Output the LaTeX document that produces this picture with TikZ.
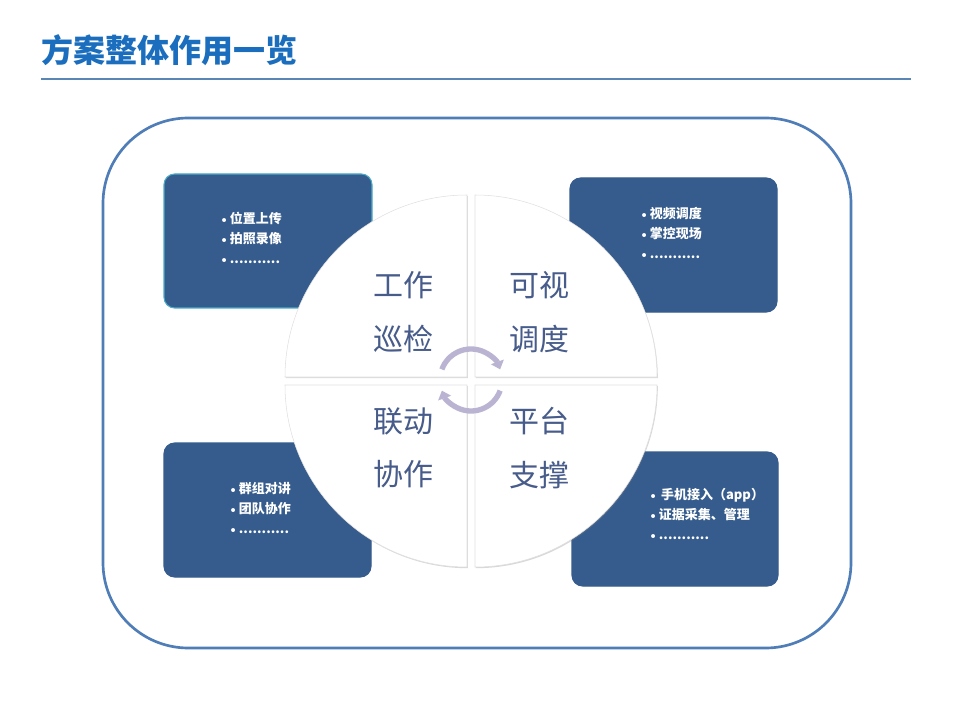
\documentclass[tikz,border=0pt]{standalone}
\usepackage{fontspec}
\newfontfamily\cjk{Noto Sans CJK SC}
\usetikzlibrary{arrows.meta,shadows}
\definecolor{titleblue}{HTML}{1B6EBD}
\definecolor{ruleblue}{HTML}{5A86B5}
\definecolor{frameblue}{HTML}{4F7DB8}
\definecolor{cardblue}{HTML}{365C8D}
\definecolor{cardteal}{HTML}{4BACC6}
\definecolor{wordblue}{HTML}{475C8A}
\definecolor{turnlilac}{HTML}{BAB4D2}
\newcommand{\cardbullet}{{\rmfamily\textbullet}}
\begin{document}
\begin{tikzpicture}[x=0.75pt,y=-0.75pt,
    card/.style={fill=cardblue,draw=cardblue,line width=0.8pt,rounded corners=8pt},
    cardtext/.style={text=white,font=\cjk\bfseries\fontsize{9.75}{15}\selectfont,align=left,anchor=west,inner sep=0pt},
    quarter/.style={fill=white,draw=black!12,line width=0.4pt,drop shadow={shadow xshift=0.6pt,shadow yshift=-0.9pt,opacity=0.3}},
    word/.style={text=wordblue,font=\cjk\fontsize{22.5}{40}\selectfont,align=center,inner sep=0pt},
    turn/.style={draw=turnlilac,line width=4pt,-{Triangle[width=10pt,length=6pt]}}
  ]
    \fill[white] (0,0) rectangle (960,720);
    \useasboundingbox (0,0) rectangle (960,720);
    % title and rule
    \node[anchor=west,text=titleblue,font=\cjk\bfseries\fontsize{24}{28}\selectfont,inner sep=0pt] (title) at (41,50) {方案整体作用一览};
    \draw[ruleblue,line width=0.8pt] (41,79) -- (911,79);
    % outer frame
    \draw[frameblue,line width=2pt,rounded corners=64pt] (103,118) rectangle (851,648);
    % cards
    \filldraw[card,draw=cardteal] (164,174) rectangle (372,308);
    \filldraw[card] (570,178) rectangle (777,312);
    \filldraw[card] (164,443) rectangle (371,577);
    \filldraw[card] (572,452) rectangle (778,586);
    % card texts
    \node[cardtext] (patroltext) at (218,238) {\cardbullet 位置上传\\\cardbullet 拍照录像\\\cardbullet ...........};
    \node[cardtext] (visualtext) at (638,233) {\cardbullet 视频调度\\\cardbullet 掌控现场\\\cardbullet ...........};
    \node[cardtext] (linktext) at (227,508) {\cardbullet 群组对讲\\\cardbullet 团队协作\\\cardbullet ...........};
    \node[cardtext] (platformtext) at (647,514) {\cardbullet\,手机接入（app）\\\cardbullet 证据采集、管理\\\cardbullet ...........};
    % four quarters of the disc
    \filldraw[quarter] (467,377) -- (285,377) arc[start angle=180,end angle=270,radius=182] -- cycle;
    \filldraw[quarter] (475,377) -- (475,195) arc[start angle=270,end angle=360,radius=182] -- cycle;
    \filldraw[quarter] (475,385) -- (657,385) arc[start angle=0,end angle=90,radius=182] -- cycle;
    \filldraw[quarter] (467,385) -- (467,567) arc[start angle=90,end angle=180,radius=182] -- cycle;
    % quarter labels
    \node[word] (patrol) at (403,312) {工作\\巡检};
    \node[word] (visual) at (539,312) {可视\\调度};
    \node[word] (link) at (403,448) {联动\\协作};
    \node[word] (platform) at (539,448) {平台\\支撑};
    % turning arrows in the middle
    \coordinate (hub) at (471,380);
    \draw[turn] (hub) ++(200:31) arc[start angle=200,end angle=340,radius=31];
    \draw[turn] (hub) ++(20:31) arc[start angle=20,end angle=160,radius=31];
\end{tikzpicture}
\end{document}
